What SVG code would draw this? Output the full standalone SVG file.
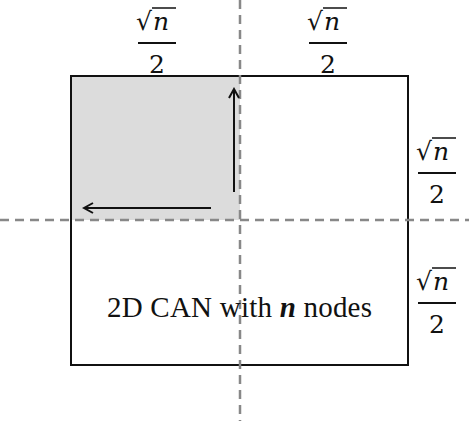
<svg xmlns="http://www.w3.org/2000/svg" width="469" height="421" viewBox="0 0 469 421">
<defs>
<style>
.m{font-family:"DejaVu Serif","Liberation Serif",serif;font-size:25px;fill:#111}
.mi{font-family:"DejaVu Serif","Liberation Serif",serif;font-style:italic;font-size:25px;fill:#111}
.fl{stroke:#111;stroke-width:2}
.dash{stroke:#888;stroke-width:2.5;stroke-dasharray:9,6;fill:none}
.arr{stroke:#111;stroke-width:2;fill:none;marker-end:url(#ah)}
.lbl{font-family:"Liberation Serif",serif;font-size:29px;fill:#111}
</style>
<marker id="ah" viewBox="0 0 12 12" refX="10" refY="6" markerWidth="6" markerHeight="6" orient="auto" markerUnits="strokeWidth">
<path d="M1,1 L10,6 L1,11" fill="none" stroke="#111" stroke-width="2"/>
</marker>
<g id="frac">
<text class="m" x="-21" y="30">√</text>
<text class="mi" x="-4" y="30">n</text>
<line x1="-5" y1="8" x2="19" y2="8" stroke="#111" stroke-width="1.5"/>
<line class="fl" x1="-19" y1="43" x2="19" y2="43"/>
<text class="m" x="0" y="73" text-anchor="middle">2</text>
</g>
</defs>
<g id="region">
<rect x="71" y="76" width="169" height="144" fill="#dcdcdc"/>
<rect x="71" y="76" width="337" height="289" fill="none" stroke="#111" stroke-width="2"/>
</g>
<g id="connectors">
<line class="dash" x1="240" y1="0" x2="240" y2="421"/>
<line class="dash" x1="0" y1="220" x2="469" y2="220"/>
<line class="arr" x1="234" y1="192" x2="234" y2="89"/>
<line class="arr" x1="211" y1="208" x2="84" y2="208"/>
</g>
<g id="labels">
<use href="#frac" x="157" y="0"/>
<use href="#frac" x="328" y="0"/>
<use href="#frac" x="437" y="130"/>
<use href="#frac" x="437" y="260"/>
</g>
<g id="caption">
<text class="lbl" x="107" y="317" textLength="265">2D CAN with <tspan font-weight="bold" font-style="italic">n</tspan> nodes</text>
</g>
</svg>
